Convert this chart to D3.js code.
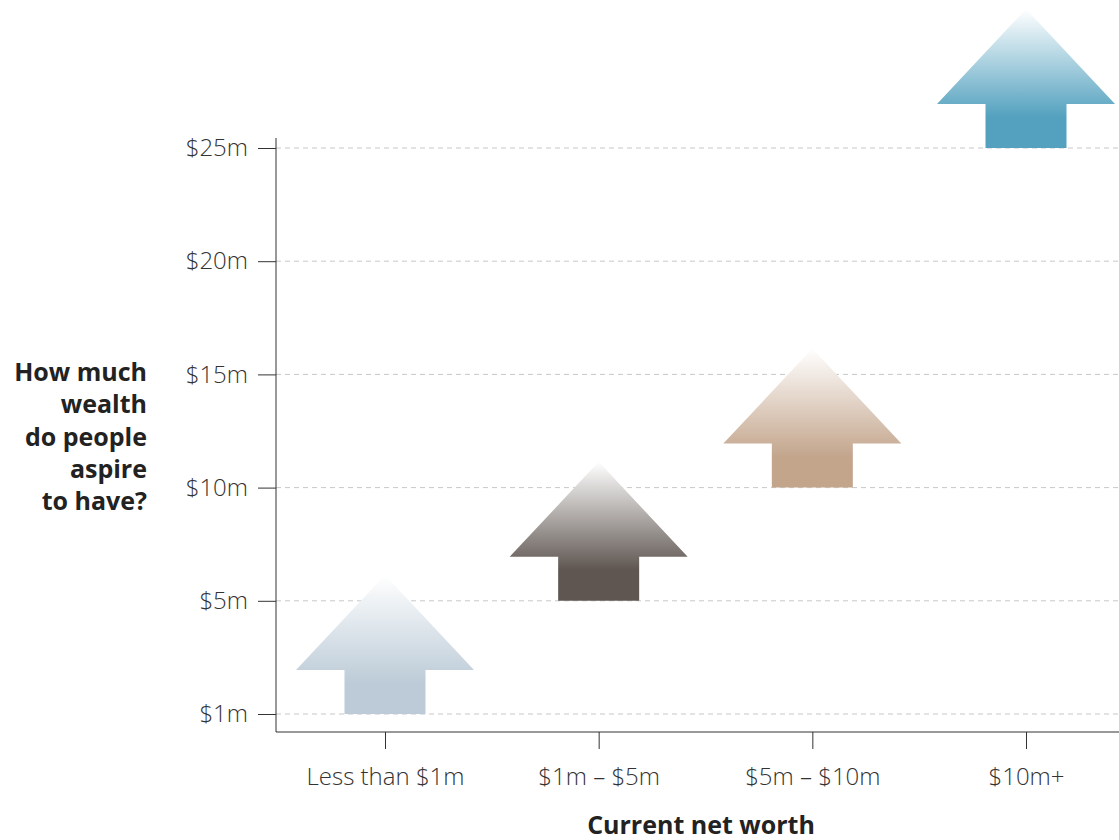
<!DOCTYPE html>
<html>
<head>
<meta charset="utf-8">
<script src="https://cdn.jsdelivr.net/npm/d3@7"></script>
<style>
  body { margin: 0; background: #fff; }
  text { font-family: "Open Sans", "Noto Sans", sans-serif; }
</style>
</head>
<body>
<div id="chart"></div>
<script>
// data
const categories = ["Less than $1m", "$1m \u2013 $5m", "$5m \u2013 $10m", "$10m+"];
const levels = ["$1m", "$5m", "$10m", "$15m", "$20m", "$25m"];
const aspiration = ["$1m", "$5m", "$10m", "$25m"];   // where each arrow starts
const colors = ["#bccbd7", "#5f5651", "#c3a58c", "#53a1bf"];
const yTitle = ["How much", "wealth", "do people", "aspire", "to have?"];

const W = 1119, H = 840;

const svg = d3.select("#chart")
  .append("svg")
    .attr("width", W)
    .attr("height", H);

// scales
const x = d3.scalePoint()
  .domain(categories)
  .range([385, 1026]);

const y = d3.scalePoint()
  .domain(levels)
  .range([714, 148]);

// gradients, white at the tip fading into the colour
const defs = svg.append("defs");
colors.forEach(function(c, i) {
  const g = defs.append("linearGradient")
    .attr("id", "grad" + i)
    .attr("x1", 0).attr("y1", 0).attr("x2", 0).attr("y2", 1);
  g.append("stop").attr("offset", "0%").attr("stop-color", "#ffffff");
  g.append("stop").attr("offset", "78%").attr("stop-color", c);
  g.append("stop").attr("offset", "100%").attr("stop-color", c);
});

// gridlines
svg.append("g")
  .selectAll("line")
  .data(levels)
  .join("line")
    .attr("x1", 276)
    .attr("x2", W)
    .attr("y1", d => y(d))
    .attr("y2", d => y(d))
    .attr("stroke", "#c8c8c8")
    .attr("stroke-width", 1)
    .attr("stroke-dasharray", "5,4");

// arrows
const headHalf = 89, shaftHalf = 40.5, shaftH = 44, headH = 95;
function arrowPath(cx, base) {
  const p = d3.path();
  p.moveTo(cx - shaftHalf, base);
  p.lineTo(cx - shaftHalf, base - shaftH);
  p.lineTo(cx - headHalf, base - shaftH);
  p.lineTo(cx, base - shaftH - headH);
  p.lineTo(cx + headHalf, base - shaftH);
  p.lineTo(cx + shaftHalf, base - shaftH);
  p.lineTo(cx + shaftHalf, base);
  p.closePath();
  return p.toString();
}

svg.append("g")
  .selectAll("path")
  .data(categories)
  .join("path")
    .attr("d", (d, i) => arrowPath(x(d), y(aspiration[i])))
    .attr("fill", (d, i) => "url(#grad" + i + ")");

// y axis
const yAxis = svg.append("g")
  .attr("transform", "translate(276,0)")
  .call(d3.axisLeft(y).tickSize(18).tickPadding(10));
yAxis.select(".domain").remove();
yAxis.selectAll(".tick line").attr("stroke", "#333");
yAxis.selectAll(".tick text")
  .attr("font-size", 24)
  .attr("font-weight", 300)
  .attr("fill", "#333")
  .style("font-family", "'Open Sans', sans-serif");
svg.append("line")
  .attr("x1", 276).attr("x2", 276)
  .attr("y1", 138).attr("y2", 732)
  .attr("stroke", "#333");

// x axis
const xAxis = svg.append("g")
  .attr("transform", "translate(0,732)")
  .call(d3.axisBottom(x).tickSize(17).tickPadding(19));
xAxis.select(".domain").remove();
xAxis.selectAll(".tick line").attr("stroke", "#333");
xAxis.selectAll(".tick text")
  .attr("font-size", 24)
  .attr("font-weight", 300)
  .attr("fill", "#333")
  .style("font-family", "'Open Sans', sans-serif");
svg.append("line")
  .attr("x1", 276).attr("x2", W)
  .attr("y1", 732).attr("y2", 732)
  .attr("stroke", "#333");

// titles
svg.append("text")
  .attr("x", 701)
  .attr("y", 834)
  .attr("text-anchor", "middle")
  .attr("font-size", 25)
  .attr("font-weight", "bold")
  .attr("fill", "#222")
  .text("Current net worth");

svg.append("text")
  .attr("text-anchor", "end")
  .attr("font-size", 25)
  .attr("font-weight", "bold")
  .attr("fill", "#222")
  .selectAll("tspan")
  .data(yTitle)
  .join("tspan")
    .attr("x", 147)
    .attr("y", (d, i) => 381 + i * 32.3)
    .text(d => d);
</script>
</body>
</html>
